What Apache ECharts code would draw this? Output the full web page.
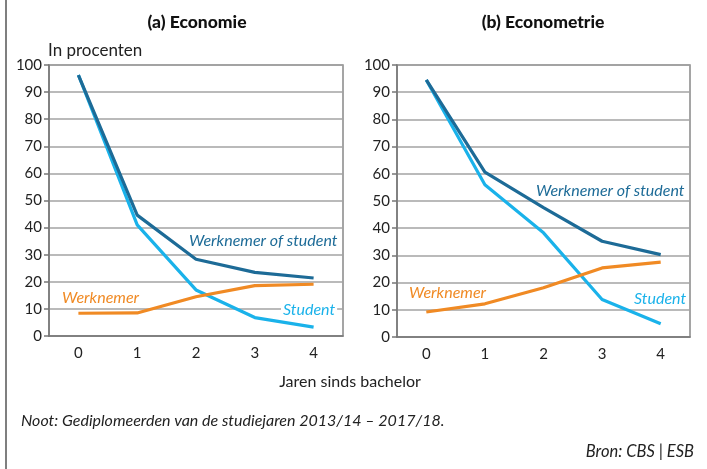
<!DOCTYPE html>
<html><head><meta charset="utf-8">
<script src="https://cdn.jsdelivr.net/npm/echarts@6/dist/echarts.min.js"></script>
<style>html,body{margin:0;padding:0;background:#fff}#c{width:707px;height:469px}</style>
</head><body><div id="c"></div>
<script>
const years = ['0','1','2','3','4'];
const ecoWerknemerOfStudent = [96.3, 44.6, 28.3, 23.5, 21.4];
const ecoStudent = [96.3, 41.0, 17.0, 6.8, 3.3];
const ecoWerknemer = [8.4, 8.5, 14.5, 18.6, 19.1];
const emtWerknemerOfStudent = [94.5, 60.6, 47.6, 35.2, 30.3];
const emtStudent = [94.5, 56.0, 38.3, 13.8, 4.9];
const emtWerknemer = [9.2, 12.2, 18.1, 25.4, 27.5];
const yTicks = [0, 100, 10];

const FONT = 'Lato';
const C_DARK = '#1d6b97', C_CYAN = '#1ab2ea', C_ORANGE = '#f08a24';

const chart = echarts.init(document.getElementById('c'));

function yAxis(i){
  return {gridIndex:i, type:'value', min:yTicks[0], max:yTicks[1], interval:yTicks[2],
    axisLine:{show:true, lineStyle:{color:'#777', width:1.5}},
    axisTick:{show:true, length:5, lineStyle:{color:'#777', width:1.5}},
    axisLabel:{fontFamily:FONT, fontSize:15, color:'#222', margin:7},
    splitLine:{lineStyle:{color:'#a3a3a3', width:1.5}}};
}
function xAxis(i){
  return {gridIndex:i, type:'category', data:years, boundaryGap:true,
    axisLine:{lineStyle:{color:'#777', width:1.5}},
    axisTick:{alignWithLabel:true, length:6, lineStyle:{color:'#777', width:1.5}},
    axisLabel:{fontFamily:FONT, fontSize:15, color:'#222', margin:10}};
}
function line(i, data, color, z){
  return {type:'line', xAxisIndex:i, yAxisIndex:i, data:data, symbol:'none', z:z,
    lineStyle:{color:color, width:3.2}, animation:false};
}
function lbl(x, y, text, color, align){
  return {type:'text', x:x, y:y, z:100,
    style:{text:text, fill:color, font:'italic 16px ' + FONT, textAlign:align||'left', textVerticalAlign:'middle',
      backgroundColor:'#fff', padding:[0,2]}};
}

chart.setOption({
  animation:false,
  grid:[
    {left:49, right:364, top:65, bottom:133, show:true, borderColor:'#888', borderWidth:1.5},
    {left:397, right:17, top:65, bottom:132, show:true, borderColor:'#888', borderWidth:1.5}
  ],
  xAxis:[xAxis(0), xAxis(1)],
  yAxis:[yAxis(0), yAxis(1)],
  series:[
    line(0, ecoStudent, C_CYAN, 2), line(0, ecoWerknemer, C_ORANGE, 3), line(0, ecoWerknemerOfStudent, C_DARK, 4),
    line(1, emtStudent, C_CYAN, 2), line(1, emtWerknemer, C_ORANGE, 3), line(1, emtWerknemerOfStudent, C_DARK, 4)
  ],
  graphic:[
    {type:'line', shape:{x1:6, y1:0, x2:6, y2:469}, style:{stroke:'#555', lineWidth:1.5}},
    {type:'text', x:197, y:22, style:{text:'(a) Economie', font:'900 17.5px ' + FONT, fill:'#111', textAlign:'center', textVerticalAlign:'middle'}},
    {type:'text', x:543, y:22, style:{text:'(b) Econometrie', font:'900 17.5px ' + FONT, fill:'#111', textAlign:'center', textVerticalAlign:'middle'}},
    {type:'text', x:48, y:51, style:{text:'In procenten', font:'17px ' + FONT, fill:'#222', textVerticalAlign:'middle'}},
    {type:'text', x:350, y:382, style:{text:'Jaren sinds bachelor', font:'16px ' + FONT, fill:'#222', textAlign:'center', textVerticalAlign:'middle'}},
    {type:'text', x:21, y:421, style:{text:'Noot: Gediplomeerden van de studiejaren 2013/14 \u2013 2017/18.', font:'italic 16px ' + FONT, fill:'#222', textVerticalAlign:'middle'}},
    {type:'text', x:694, y:452, style:{text:'Bron: CBS | ESB', font:'italic 16.5px ' + FONT, fill:'#222', textAlign:'right', textVerticalAlign:'middle'}},
    lbl(187, 241, 'Werknemer of student', C_DARK),
    lbl(60, 298, 'Werknemer', C_ORANGE),
    lbl(281, 310, 'Student', C_CYAN),
    lbl(534, 191, 'Werknemer of student', C_DARK),
    lbl(407, 293, 'Werknemer', C_ORANGE),
    lbl(632, 299, 'Student', C_CYAN)
  ]
});
</script></body></html>
